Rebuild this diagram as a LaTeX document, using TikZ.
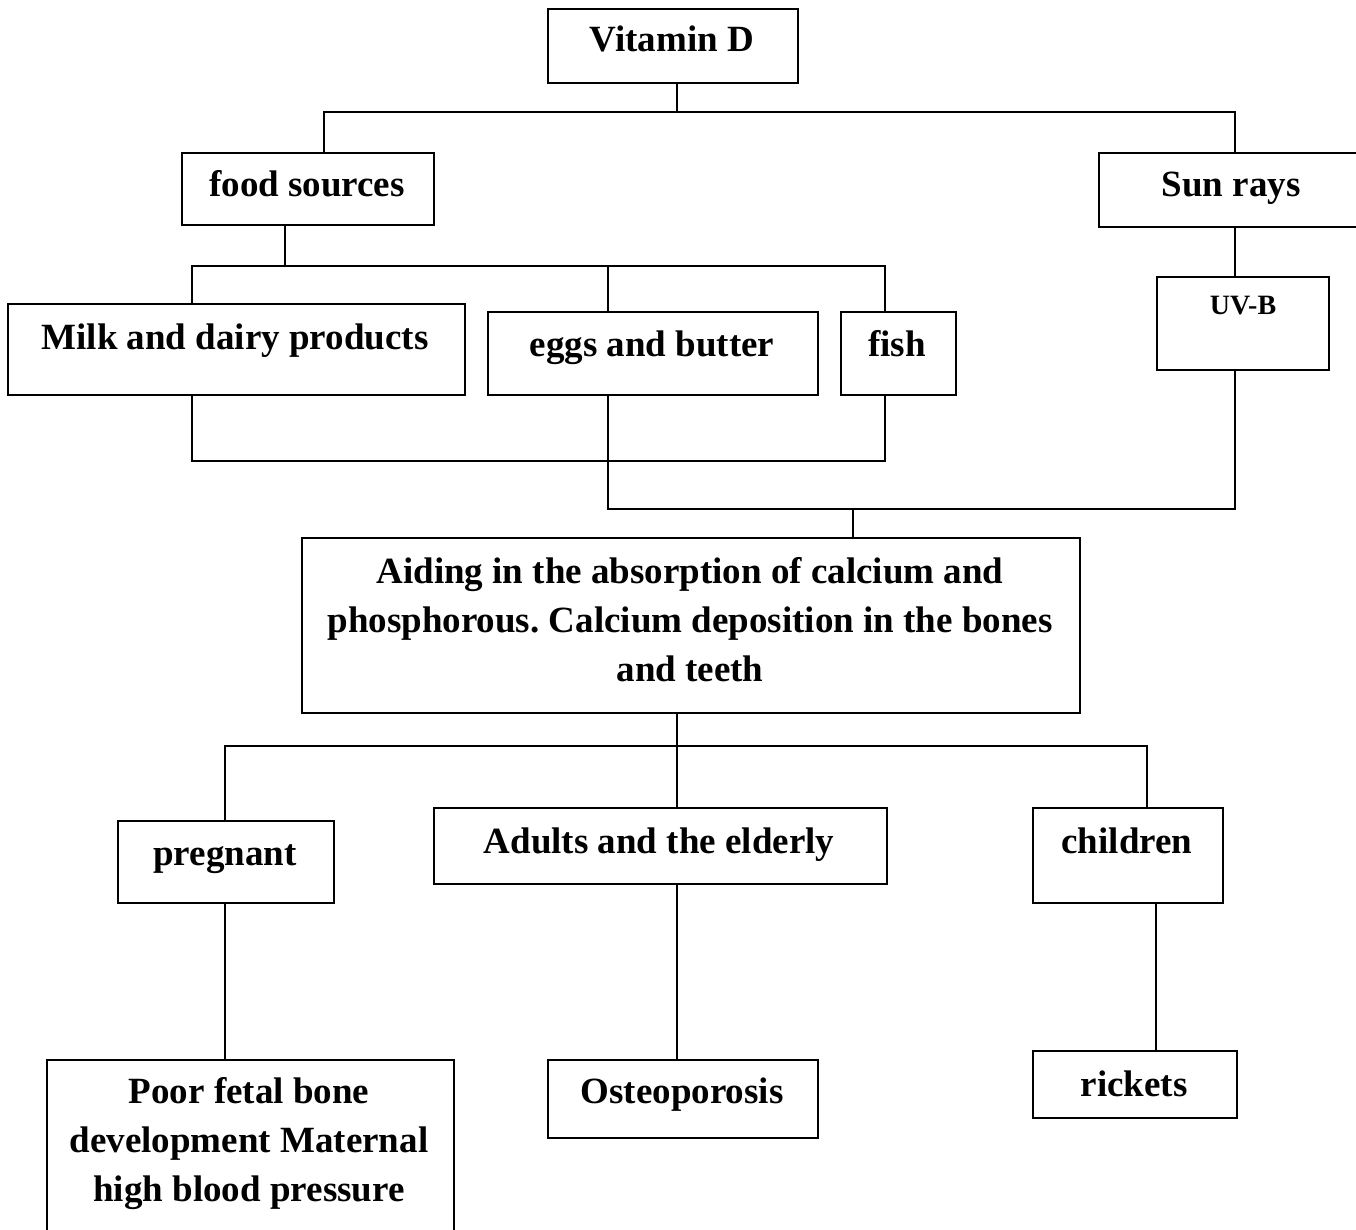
\documentclass[tikz,border=0pt]{standalone}
\usepackage{fontspec}
\setmainfont{Liberation Serif}
\frenchspacing
\begin{document}
\begin{tikzpicture}[x=1pt,y=-1pt,
  box/.style={draw, line width=2pt, inner sep=0pt, anchor=north west},
  conn/.style={line width=1.6pt},
  lbl/.style={anchor=base, inner sep=0pt, font=\bfseries\fontsize{37}{49}\selectfont},
  slbl/.style={anchor=base, inner sep=0pt, font=\bfseries\fontsize{28}{34}\selectfont}]
\fill[white] (0,0) rectangle (1356,1230);
\useasboundingbox (0,0) rectangle (1356,1230);

% boxes
\node[box, minimum width=250pt, minimum height=74pt] (vitD) at (547,8) {};
\node[box, minimum width=252pt, minimum height=72pt] (food) at (181,152) {};
\node[box, minimum width=264pt, minimum height=74pt] (sun) at (1098,152) {};
\node[box, minimum width=457pt, minimum height=91pt] (milk) at (7,303) {};
\node[box, minimum width=330pt, minimum height=83pt] (eggs) at (487,311) {};
\node[box, minimum width=115pt, minimum height=83pt] (fish) at (840,311) {};
\node[box, minimum width=172pt, minimum height=93pt] (uvb) at (1156,276) {};
\node[box, minimum width=778pt, minimum height=175pt] (aid) at (301,537) {};
\node[box, minimum width=216pt, minimum height=82pt] (preg) at (117,820) {};
\node[box, minimum width=453pt, minimum height=76pt] (adult) at (433,807) {};
\node[box, minimum width=190pt, minimum height=95pt] (child) at (1032,807) {};
\node[box, minimum width=407pt, minimum height=190pt] (poor) at (46,1059) {};
\node[box, minimum width=270pt, minimum height=78pt] (osteo) at (547,1059) {};
\node[box, minimum width=204pt, minimum height=67pt] (rick) at (1032,1050) {};

% texts
\node[lbl] (vitDt) at (672,52) {Vitamin D};
\node[lbl] (foodt) at (307,197) {food sources};
\node[lbl] (sunt) at (1231,197) {Sun rays};
\node[lbl] (milkt) at (235,349) {Milk and dairy products};
\node[lbl] (eggst) at (652,356) {eggs and butter};
\node[lbl] (fisht) at (897,356) {fish};
\node[slbl] (uvbt) at (1243,315) {UV-B};
\node[lbl] (aidt1) at (690,583) {Aiding in the absorption of calcium and};
\node[lbl] (aidt2) at (690,632) {phosphorous. Calcium deposition in the bones};
\node[lbl] (aidt3) at (690,681) {and teeth};
\node[lbl] (pregt) at (225,865) {pregnant};
\node[lbl] (adultt) at (659,853) {Adults and the elderly};
\node[lbl] (childt) at (1127,853) {children};
\node[lbl] (poort1) at (249,1103) {Poor fetal bone};
\node[lbl] (poort2) at (249,1152) {development Maternal};
\node[lbl] (poort3) at (249,1201) {high blood pressure};
\node[lbl] (osteot) at (682,1103) {Osteoporosis};
\node[lbl] (rickt) at (1134,1096) {rickets};

% junction coordinates
\coordinate (t0) at (677,112);
\coordinate (tL) at (324,112);
\coordinate (tR) at (1235,112);
\coordinate (f0) at (285,266);
\coordinate (fL) at (192,266);
\coordinate (fM) at (608,266);
\coordinate (fR) at (885,266);
\coordinate (gL) at (192,461);
\coordinate (gR) at (885,461);
\coordinate (hL) at (608,509);
\coordinate (h0) at (853,509);
\coordinate (hR) at (1235,509);
\coordinate (k0) at (677,746);
\coordinate (kL) at (225,746);
\coordinate (kR) at (1147,746);
\coordinate (c1) at (1156,0);

% connectors
\draw[conn] (vitD.south -| t0) -- (t0);
\draw[conn] (food.north -| tL) -- (tL) -- (tR) -- (sun.north -| tR);
\draw[conn] (food.south -| f0) -- (f0);
\draw[conn] (milk.north -| fL) -- (fL) -- (fR) -- (fish.north -| fR);
\draw[conn] (fM) -- (eggs.north -| fM);
\draw[conn] (sun.south -| tR) -- (uvb.north -| tR);
\draw[conn] (milk.south -| gL) -- (gL) -- (gR) -- (fish.south -| gR);
\draw[conn] (eggs.south -| hL) -- (hL) -- (hR) -- (uvb.south -| hR);
\draw[conn] (h0) -- (aid.north -| h0);
\draw[conn] (aid.south -| k0) -- (k0);
\draw[conn] (preg.north -| kL) -- (kL) -- (kR) -- (child.north -| kR);
\draw[conn] (k0) -- (adult.north -| k0);
\draw[conn] (preg.south -| kL) -- (poor.north -| kL);
\draw[conn] (adult.south -| k0) -- (osteo.north -| k0);
\draw[conn] (child.south -| c1) -- (rick.north -| c1);
\end{tikzpicture}
\end{document}
